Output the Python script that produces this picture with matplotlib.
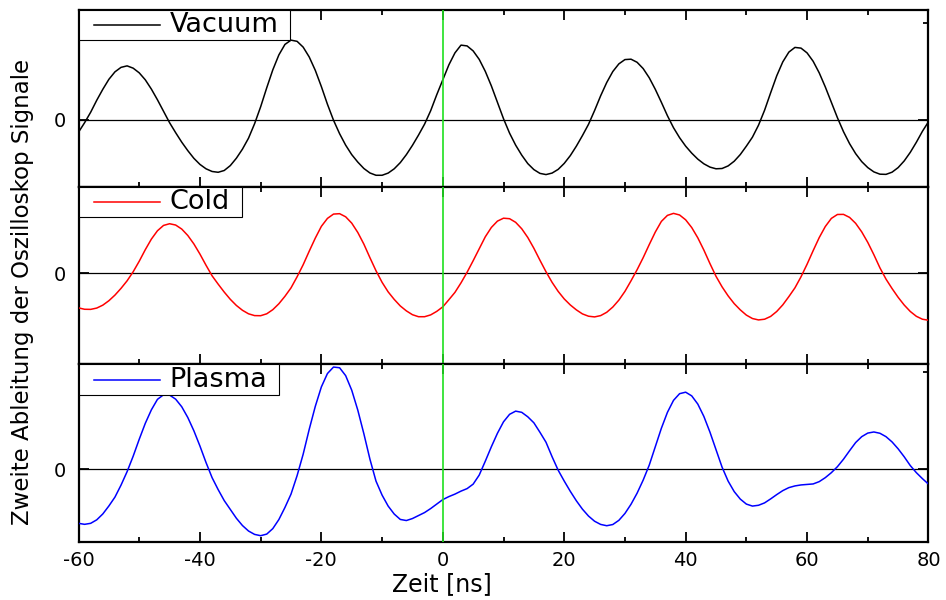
import matplotlib
matplotlib.use("Agg")
import matplotlib.pyplot as plt
from matplotlib.lines import Line2D
from matplotlib.offsetbox import AnchoredOffsetbox, DrawingArea, HPacker, TextArea
from matplotlib.ticker import FixedLocator, MultipleLocator

plt.rcParams["font.family"] = ["DejaVu Sans"]
plt.rcParams["axes.unicode_minus"] = False

# time axis in ns, one sample per ns
time_ns = list(range(-60, 81))

# second derivative of the scope signals (arbitrary units)
vacuum = [
    -12.5, -3, 7.5, 19.5, 30.5, 40.5, 48, 52.5, 54, 51.7,
    47, 40, 30.7, 20, 8.4, -3, -13, -22.5, -31, -38.7,
    -44.8, -49.2, -51.9, -52.7, -50.9, -46, -38.6, -29.5, -18.5, -4,
    13, 32, 50, 65, 75.5, 79.8, 78.6, 72.8, 62.9, 49.5,
    33.2, 15.5, -0.5, -14, -25.5, -35, -42.5, -48.9, -53.4, -55.7,
    -55.7, -53.5, -49.2, -43, -35, -25.7, -15.4, -4.4, 9, 25,
    40, 55, 67, 74.8, 74, 69, 60.5, 48.5, 33.9, 17.5,
    1, -13.5, -25.5, -35.5, -44, -50, -53.8, -55, -53.5, -49.8,
    -43.8, -36, -26.5, -15.9, -4.6, 9.2, 24, 37.3, 48.3, 56,
    60.3, 60.7, 57.6, 51.3, 42.1, 30.5, 17.5, 4, -8, -18,
    -26.5, -33.5, -39.5, -44.2, -47.5, -49.2, -48.9, -46.3, -41.6, -34.9,
    -26.5, -17.5, -5.5, 9.5, 27, 44, 58, 67.8, 72.5, 71.8,
    67, 58.6, 47, 32.9, 17.5, 2, -12, -24, -34, -42,
    -48, -52.3, -54.6, -54.8, -52.6, -48, -41.3, -32.7, -22.6, -11.6,
    -2,
]

cold = [
    -34.4, -35.8, -35.9, -34.6, -31.7, -27.3, -21.7, -15, -7.5, 1.5,
    12, 23.5, 34, 42.3, 47.6, 49.3, 48, 44, 37.6, 29.2,
    19.1, 8, -2.5, -10.8, -18.7, -25.9, -32, -36.8, -40.3, -42.1,
    -42.2, -40.3, -36.2, -30.3, -22.9, -14.5, -3.5, 8.5, 22, 35,
    46.7, 54.6, 58.9, 59.3, 56.2, 49.9, 40.6, 29, 15.5, 2.5,
    -9, -18.5, -26, -32.5, -37.4, -41.2, -43.2, -43.2, -41.4, -37.9,
    -33.4, -26.3, -19, -9.5, 1, 12.5, 24.5, 36.3, 45.6, 51.9,
    54.8, 54.3, 50.7, 44.3, 35.6, 24.9, 13, 1.5, -9, -18,
    -25.5, -31.5, -36.4, -40.4, -42.7, -43.4, -42.1, -38.8, -33.6, -26.7,
    -18, -7.5, 3.5, 15.5, 28.5, 41, 51.6, 57.6, 59.6, 58,
    53.2, 45.5, 35.3, 23.1, 9.7, -3, -13.5, -22.5, -30.2, -36.4,
    -41.6, -45, -46.4, -45.7, -42.9, -38, -31.4, -23.2, -14.5, -3.5,
    9, 22.5, 35.5, 46.5, 54.6, 58.5, 58.6, 55.6, 49.7, 41.2,
    30.7, 18.5, 5.4, -5.8, -15.2, -23.9, -31.6, -38, -42.8, -45.7,
    -46.7,
]

plasma = [
    -54.3, -55.3, -54.3, -50.8, -44.9, -36.9, -28, -16, -2.5, 13,
    30, 46, 59.5, 70, 74.6, 74.3, 70.2, 62.6, 51.8, 38.5,
    23.2, 6.7, -8.5, -20.5, -31.5, -40.3, -49.2, -56.5, -62, -65.4,
    -66.7, -65.1, -59.6, -50.5, -38.4, -25, -6.5, 15, 40, 63,
    82.5, 95.9, 102.4, 101.7, 93.8, 79.2, 59.2, 35.5, 10, -12,
    -26, -37, -45, -50.4, -51.5, -49.5, -46.5, -43.5, -39.5, -35,
    -30.5, -27.5, -25, -22, -19.5, -15, -5.9, 8, 22.5, 36,
    47.5, 55, 58.2, 57, 52.5, 46.5, 37, 27, 12.5, -1,
    -11.9, -22.2, -31.7, -40.1, -47, -52.2, -55.4, -56.7, -55.5, -51.3,
    -44.4, -35.2, -24.1, -11, 4, 22.5, 41, 57, 69, 75.7,
    77.2, 73.5, 65.3, 52.9, 37.2, 19.5, 2, -12, -22.5, -30,
    -35, -37, -36.2, -33.8, -29.8, -25.5, -21.5, -18.5, -16.8, -15.8,
    -15.3, -14.8, -12.5, -8.5, -3.5, 2.5, 10, 18.5, 26.7, 32.6,
    36.2, 37.3, 36, 32.6, 27.3, 20.4, 12.4, 3.6, -3.5, -9.5,
    -15,
]

labels = ["Vacuum", "Cold", "Plasma"]
colors = ["black", "#ff0000", "#0000ff"]
ylims = [(-67.7, 110), (-90.7, 85.6), (-72.7, 105)]


def add_key(ax, label, color):
    # boxed legend flush with the upper left corner of the panel
    handle = DrawingArea(64, 14, 0, 0)
    handle.add_artist(Line2D([9.4, 56.9], [7, 7], color=color, linewidth=1.1))
    text = TextArea(label, textprops=dict(size=19.5, color="black"))
    spacer = DrawingArea(7, 14, 0, 0)
    box = HPacker(children=[handle, text, spacer], align="center", pad=0, sep=0)
    key = AnchoredOffsetbox(
        loc="upper left",
        child=box,
        pad=0.15,
        borderpad=0,
        frameon=True,
        bbox_to_anchor=(0, 1),
        bbox_transform=ax.transAxes,
    )
    key.patch.set_boxstyle("square", pad=0)
    key.patch.set_edgecolor("black")
    key.patch.set_linewidth(0.8)
    key.zorder = 5
    ax.add_artist(key)


fig, axes = plt.subplots(3, 1, figsize=(9.46, 6.0), dpi=100, sharex=True)
fig.subplots_adjust(left=0.083, right=0.9815, top=0.9833, bottom=0.0972, hspace=0)

for ax, vals, label, color, ylim in zip(axes, [vacuum, cold, plasma], labels, colors, ylims):
    ax.axhline(0, color="black", linewidth=0.9, zorder=1)
    ax.plot(time_ns, vals, color=color, linewidth=1.1, zorder=3)
    ax.axvline(0, color="#1fe01f", linewidth=1.2, zorder=4)
    ax.set_xlim(-60, 80)
    ax.set_ylim(*ylim)
    ax.xaxis.set_major_locator(MultipleLocator(20))
    ax.xaxis.set_minor_locator(MultipleLocator(10))
    ax.yaxis.set_major_locator(FixedLocator([0]))
    ax.yaxis.set_minor_locator(FixedLocator([97]))
    ax.tick_params(which="both", direction="in", top=True, right=True, width=1.3, labelsize=14)
    ax.tick_params(which="major", length=7)
    ax.tick_params(which="minor", length=3.5)
    ax.tick_params(axis="x", pad=6.5)
    ax.tick_params(axis="y", pad=9)
    for sp in ax.spines.values():
        sp.set_linewidth(1.6)
    add_key(ax, label, color)

fig.text(23 / 946, 1 - 292 / 600, "Zweite Ableitung der Oszilloskop Signale",
         rotation=90, ha="center", va="center", fontsize=16.5)
fig.text(442 / 946, 1 - 584 / 600, "Zeit [ns]", ha="center", va="center", fontsize=17)

fig.savefig("out.png", dpi=100)
